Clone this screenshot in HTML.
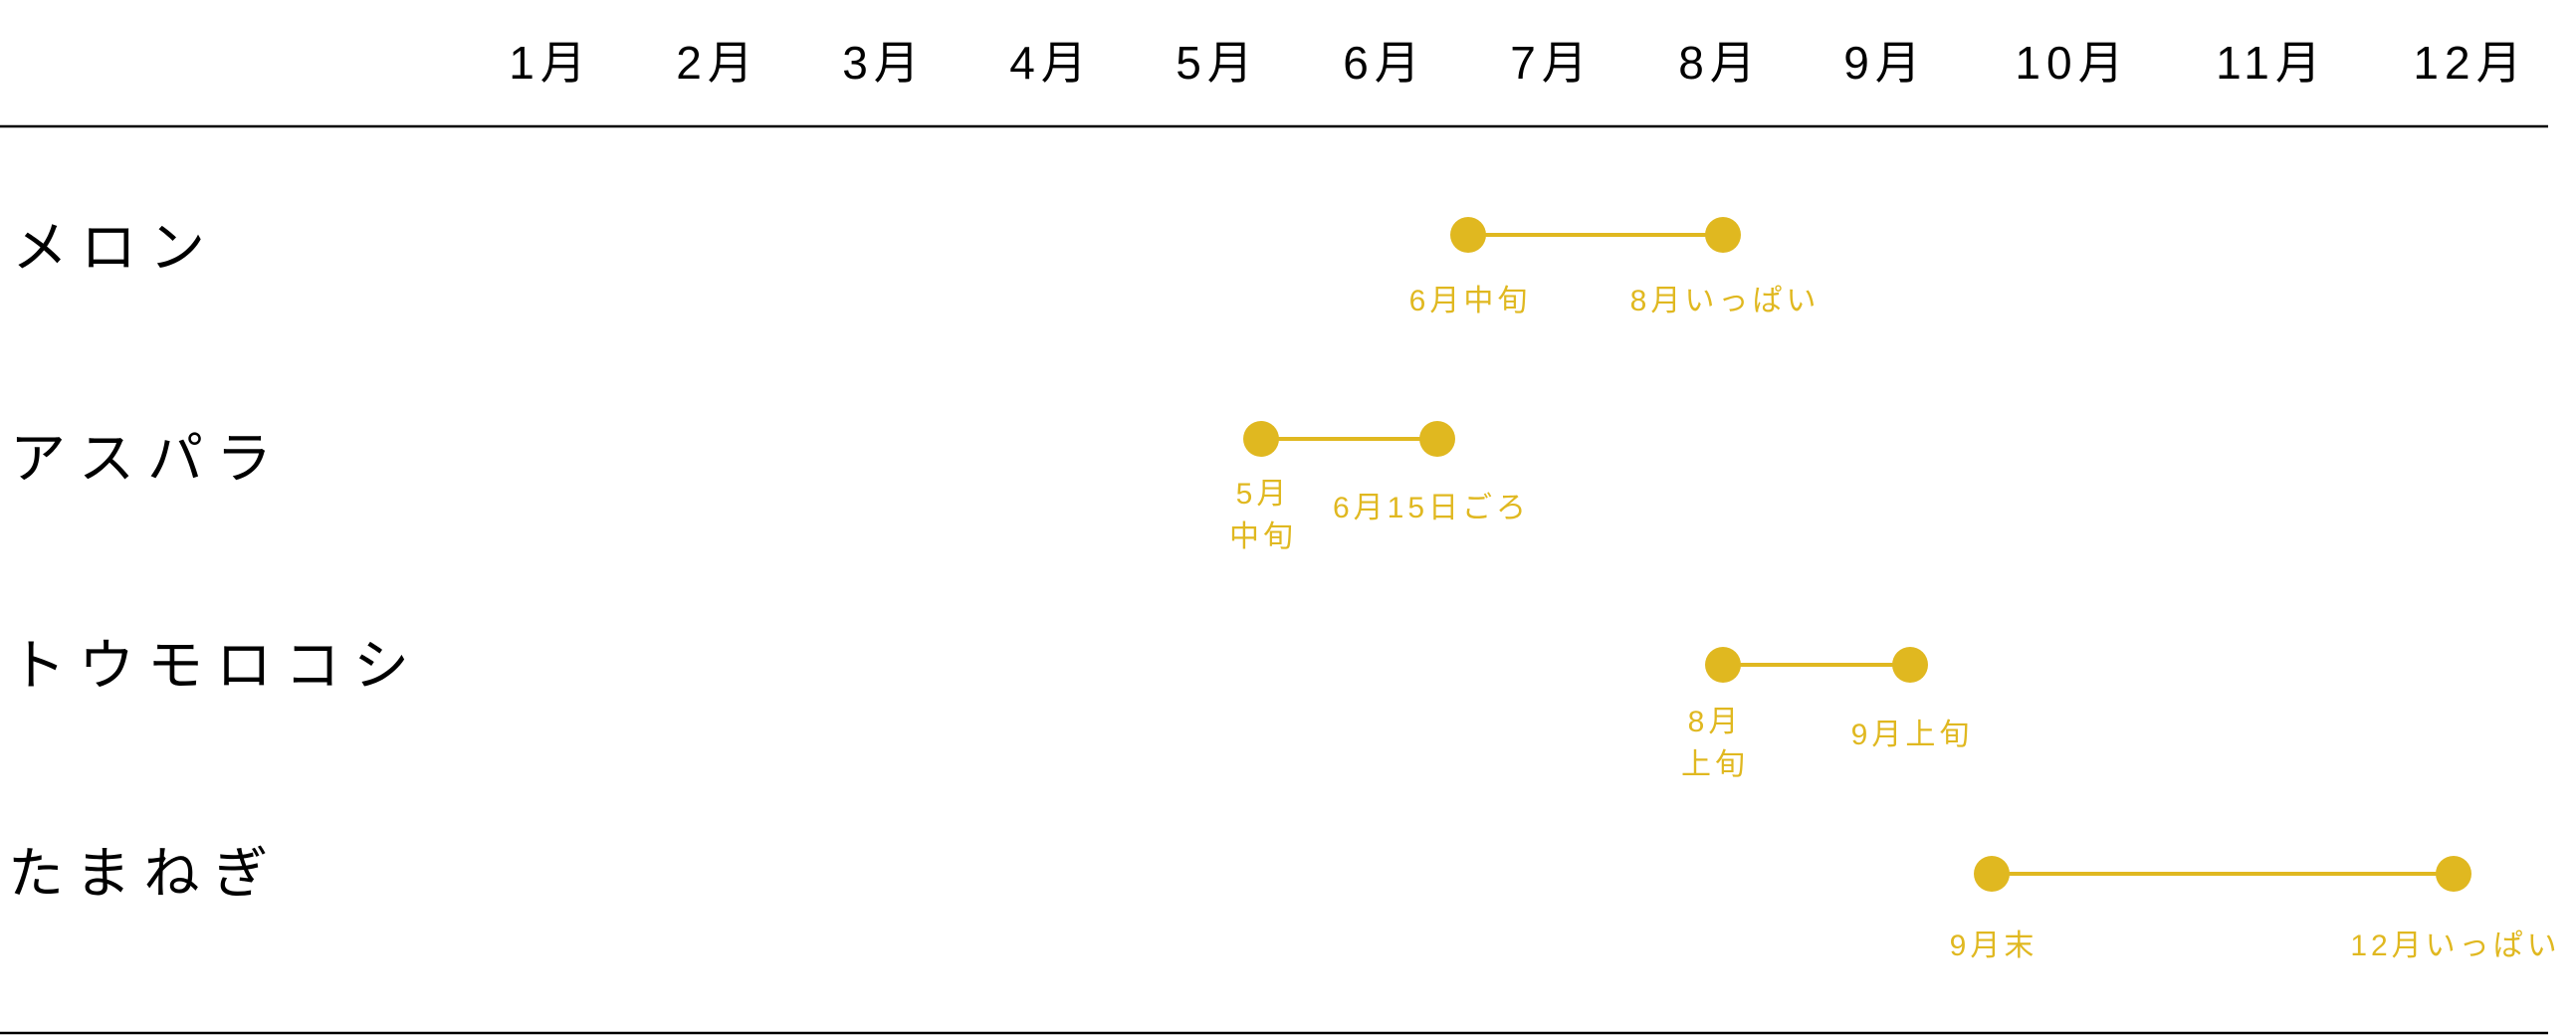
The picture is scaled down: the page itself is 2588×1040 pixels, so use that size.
<!DOCTYPE html>
<html><head><meta charset="utf-8"><style>
html,body{margin:0;padding:0;background:#fff;width:2588px;height:1040px;overflow:hidden}
svg{display:block}
text{font-family:"Liberation Sans","Noto Sans CJK JP",sans-serif}
.m{font-size:46px;fill:#000;text-anchor:middle;letter-spacing:6px}
.r{font-size:56px;fill:#000;letter-spacing:13px}
.y{font-size:30px;fill:#e0b820;text-anchor:middle;letter-spacing:4px}
</style></head><body>
<svg width="2588" height="1040" viewBox="0 0 2588 1040">
<g>
<text class="m" x="553" y="79">1月</text>
<text class="m" x="721" y="79">2月</text>
<text class="m" x="888" y="79">3月</text>
<text class="m" x="1056" y="79">4月</text>
<text class="m" x="1223" y="79">5月</text>
<text class="m" x="1391" y="79">6月</text>
<text class="m" x="1559" y="79">7月</text>
<text class="m" x="1728" y="79">8月</text>
<text class="m" x="1894" y="79">9月</text>
<text class="m" x="2082" y="79">10月</text>
<text class="m" x="2282" y="79">11月</text>
<text class="m" x="2482" y="79">12月</text>
</g>
<line x1="0" y1="127" x2="2560" y2="127" stroke="#000" stroke-width="2.5"/>
<line x1="0" y1="1038" x2="2560" y2="1038" stroke="#000" stroke-width="2.5"/>
<text class="r" x="12" y="268">メロン</text>
<text class="r" x="10" y="480">アスパラ</text>
<text class="r" x="10" y="688">トウモロコシ</text>
<text class="r" x="8" y="897">たまねぎ</text>
<g stroke="#e0b820" stroke-width="4">
<line x1="1475" y1="236" x2="1731" y2="236"/>
<line x1="1267" y1="441" x2="1444" y2="441"/>
<line x1="1731" y1="668" x2="1919" y2="668"/>
<line x1="2001" y1="878" x2="2465" y2="878"/>
</g>
<g fill="#e0b820">
<circle cx="1475" cy="236" r="18"/><circle cx="1731" cy="236" r="18"/>
<circle cx="1267" cy="441" r="18"/><circle cx="1444" cy="441" r="18"/>
<circle cx="1731" cy="668" r="18"/><circle cx="1919" cy="668" r="18"/>
<circle cx="2001" cy="878" r="18"/><circle cx="2465" cy="878" r="18"/>
</g>
<text class="y" x="1477" y="312">6月中旬</text>
<text class="y" x="1733" y="312">8月いっぱい</text>
<text class="y" x="1269" y="506">5月</text>
<text class="y" x="1269" y="549">中旬</text>
<text class="y" x="1438" y="520">6月15日ごろ</text>
<text class="y" x="1723" y="735">8月</text>
<text class="y" x="1723" y="778">上旬</text>
<text class="y" x="1921" y="748">9月上旬</text>
<text class="y" x="2003" y="960">9月末</text>
<text class="y" x="2467" y="960">12月いっぱい</text>
</svg>
</body></html>
